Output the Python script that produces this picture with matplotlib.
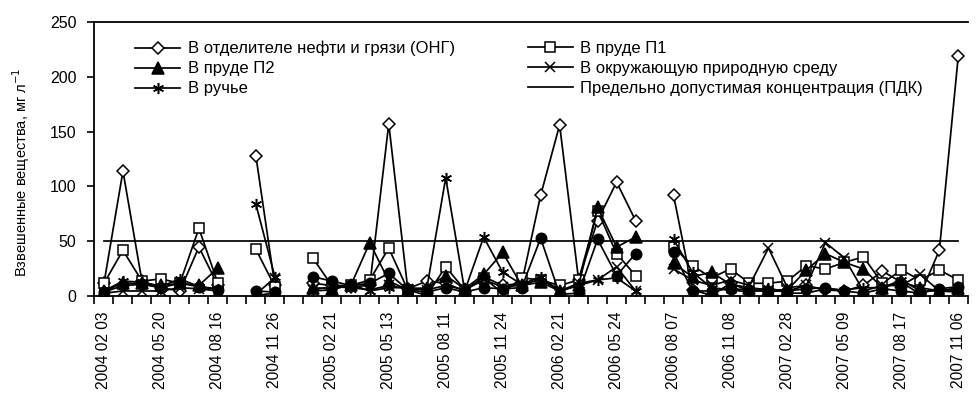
import matplotlib
matplotlib.use("Agg")
import matplotlib.pyplot as plt
import numpy as np

nan = np.nan

# category labels (every third sampling date is labelled)
tick_labels = ["2004 02 03", "2004 05 20", "2004 08 16", "2004 11 26",
               "2005 02 21", "2005 05 13", "2005 08 11", "2005 11 24",
               "2006 02 21", "2006 05 24", "2006 08 07", "2006 11 08",
               "2007 02 28", "2007 05 09", "2007 08 17", "2007 11 06"]
n_cat = 46

# suspended solids, mg/l (nan = no sample)
ong = [12, 114, 14, 8, 5, 45, 10, nan, 128, 10, nan, 12, 10, 9, 10, 157,
       7, 14, 12, 5, 18, 10, 12, 92, 156, 15, 69, 104, 69, nan, 92, 6,
       1, 12, 5, 5, 5, 10, 6, 5, 10, 23, 13, 2, 42, 219]
p1 = [12, 42, 14, 16, 12, 62, 12, nan, 43, 9, nan, 35, 10, 10, 15, 44,
      6, 1, 27, 6, 17, 3, 17, 15, 10, 15, 78, 39, 19, nan, 45, 28,
      17, 25, 12, 12, 14, 28, 25, 31, 36, 12, 24, 15, 24, 15]
p2 = [5, 12, 12, 10, 12, 10, 26, nan, 1, 3, nan, 8, 7, 10, 49, 14,
      6, 8, 19, 7, 20, 40, 10, 13, 5, 10, 81, 45, 54, nan, 30, 18,
      22, 11, 8, 6, 6, 24, 39, 31, 25, 8, 13, 8, 5, 8]
env = [3, 5, 5, 5, 8, 7, 5, nan, 2, 17, nan, 6, 9, 8, 6, 10,
       7, 6, 10, 6, 15, 9, 10, 16, 5, 12, 15, 27, 5, nan, 25, 15,
       10, 15, 10, 44, 8, 10, 49, 35, 5, 10, 10, 20, 5, 6]
stream = [5, 14, 13, 9, 16, 9, 7, nan, 84, 18, nan, 5, 6, 11, 5, 8,
          8, 7, 108, 5, 54, 22, 11, 18, 5, 10, 15, 17, 5, nan, 52, 22,
          8, 6, 4, 8, 3, 3, 7, 6, 8, 8, 15, 5, 5, 4]
other = [4, 10, 11, 8, 12, 9, 6, nan, 5, 4, nan, 18, 14, 10, 12, 21,
         6, 4, 8, 4, 8, 7, 8, 53, 2, 3, 52, 19, 39, nan, 40, 5,
         5, 7, 6, 5, 5, 7, 8, 5, 3, 7, 5, 3, 7, 9]
pdk = [50] * n_cat

plt.rcParams["font.family"] = ["Liberation Sans", "DejaVu Sans"]

fig = plt.figure(figsize=(9.78, 3.94), dpi=100)
ax = fig.add_axes([0.0966, 0.2475, 0.893, 0.6979])

x = np.arange(n_cat)
lw = 1.25
kw = dict(color="black", linewidth=lw, markeredgecolor="black", markeredgewidth=1.1)

h_ong, = ax.plot(x, ong, marker="D", markersize=6.5, markerfacecolor="white",
                 label="В отделителе нефти и грязи (ОНГ)", **kw)
h_p1, = ax.plot(x, p1, marker="s", markersize=7.5, markerfacecolor="white",
                label="В пруде П1", **kw)
h_p2, = ax.plot(x, p2, marker="^", markersize=8, markerfacecolor="black",
                label="В пруде П2", **kw)
h_env, = ax.plot(x, env, marker="x", markersize=7, label="В окружающую природную среду", **kw)
h_st, = ax.plot(x, stream, marker=(6, 2, 0), markersize=8, label="В ручье", **kw)
ax.plot(x, other, marker="o", markersize=7.5, markerfacecolor="black", **kw)
h_pdk, = ax.plot(x, pdk, color="black", linewidth=lw,
                 label="Предельно допустимая концентрация (ПДК)")

ax.set_xlim(-0.5, n_cat - 0.5)
ax.set_ylim(0, 250)
ax.set_yticks([0, 50, 100, 150, 200, 250])
ax.tick_params(axis="y", labelsize=11.5, length=5, width=1.2, pad=8)

# ticks between categories, labels on every third category
ax.set_xticks(np.arange(n_cat + 1) - 0.5)
ax.set_xticklabels([])
ax.set_xticks(np.arange(0, n_cat, 3), minor=True)
ax.set_xticklabels(tick_labels, minor=True, rotation=90, fontsize=11.2)
ax.tick_params(axis="x", which="major", length=6, width=1.2, direction="out")
ax.tick_params(axis="x", which="minor", length=0, pad=11)

for side in ["left", "bottom", "top"]:
    ax.spines[side].set_linewidth(1.3)
ax.spines["right"].set_visible(False)

ax.set_ylabel("Взвешенные вещества, мг л$^{-1}$", fontsize=10.5)
ax.yaxis.set_label_coords(-0.071, 0.45)

leg_kw = dict(frameon=False, fontsize=12, handlelength=2.7, handletextpad=0.45,
              labelspacing=0.3, borderpad=0, borderaxespad=0,
              bbox_transform=fig.transFigure, loc="upper left")
leg1 = ax.legend([h_ong, h_p2, h_st], [h.get_label() for h in (h_ong, h_p2, h_st)],
                 bbox_to_anchor=(135 / 978, 1 - 41 / 394), **leg_kw)
ax.add_artist(leg1)
ax.legend([h_p1, h_env, h_pdk], [h.get_label() for h in (h_p1, h_env, h_pdk)],
          bbox_to_anchor=(528 / 978, 1 - 41 / 394), **leg_kw)

fig.savefig("out.png", dpi=100)
